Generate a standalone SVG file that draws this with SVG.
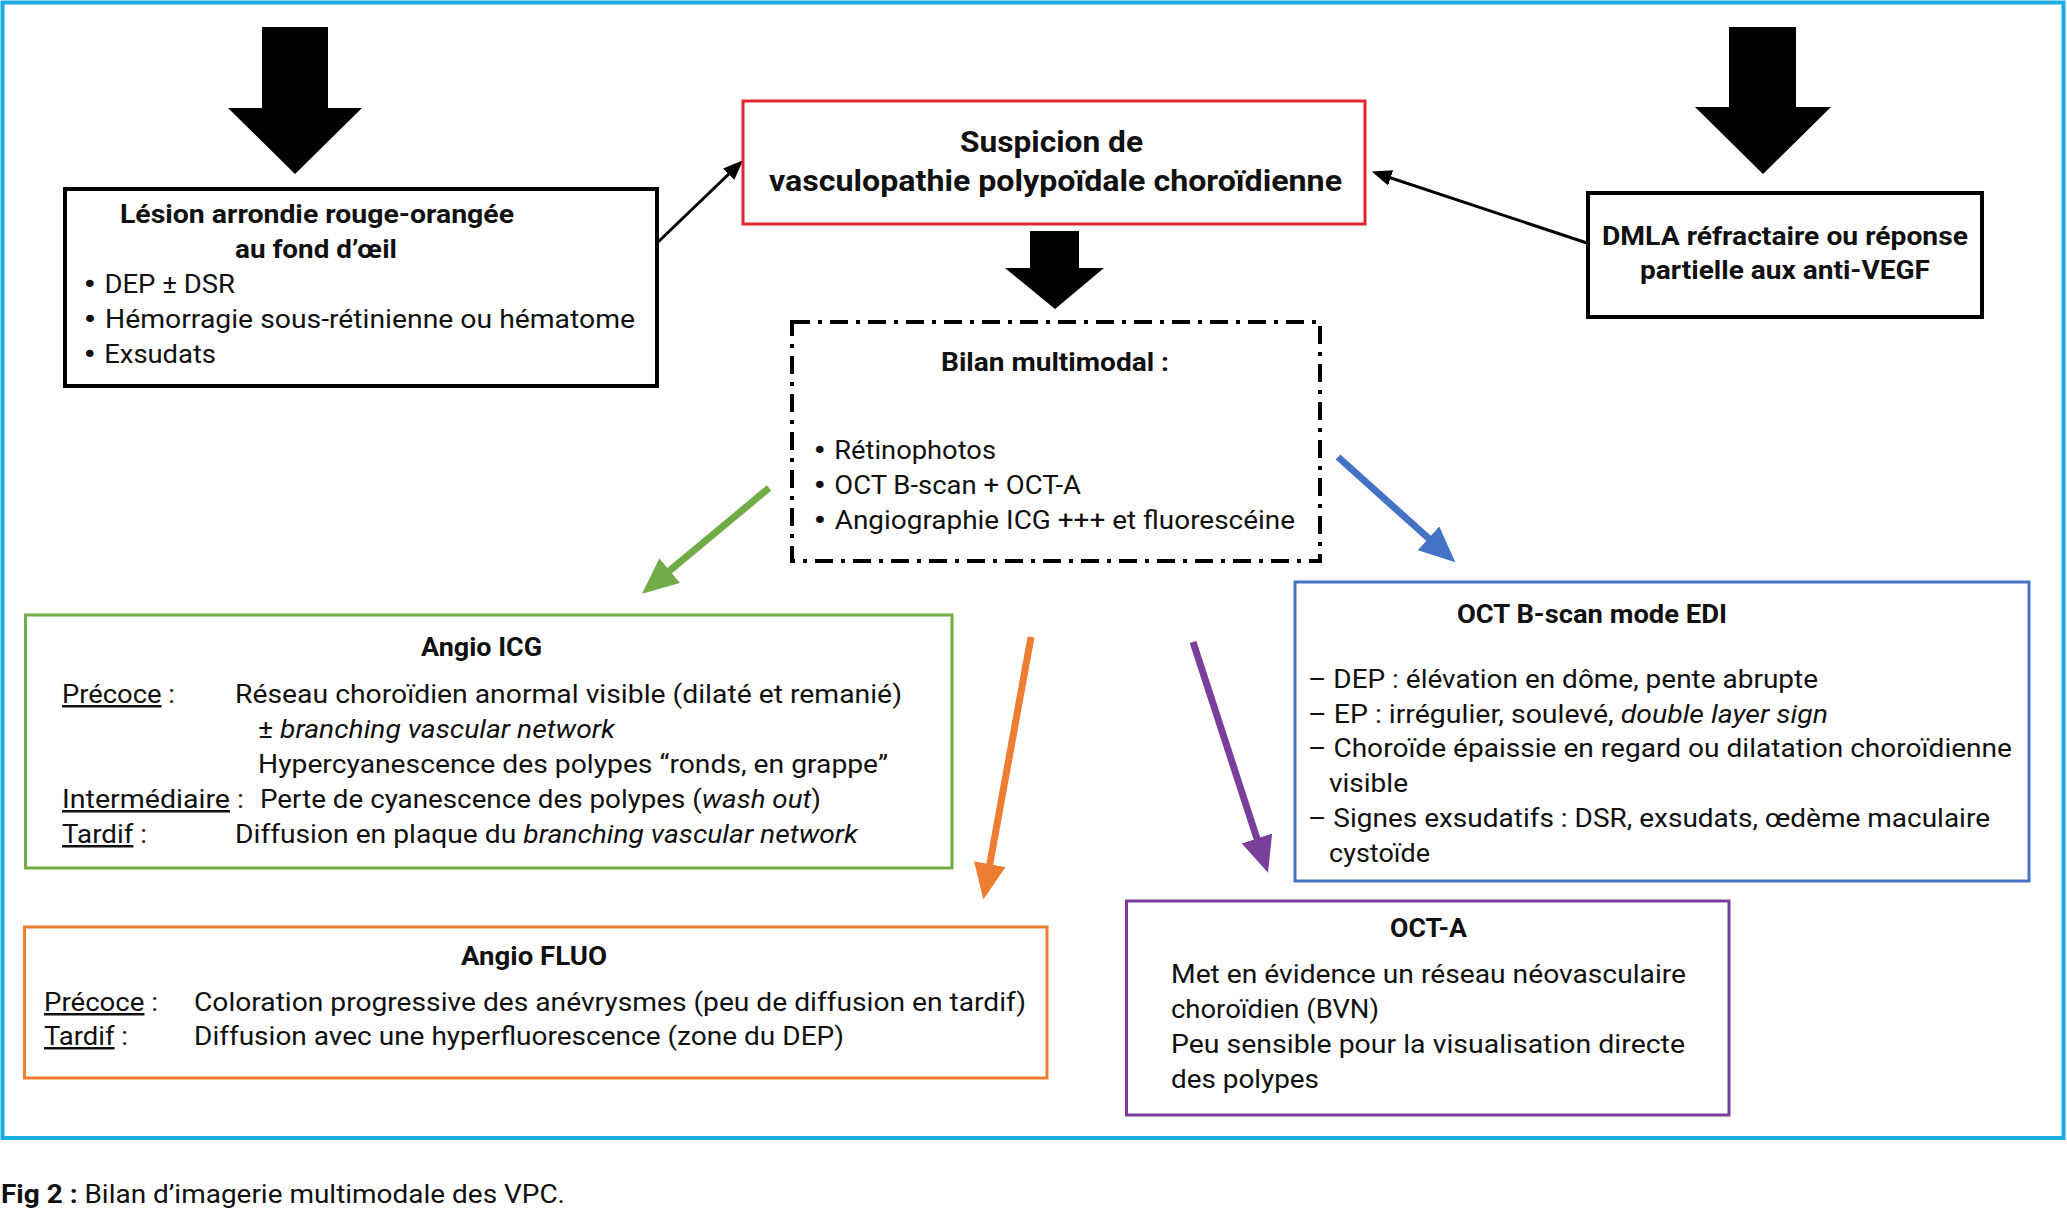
<svg xmlns="http://www.w3.org/2000/svg" width="2067" height="1210" viewBox="0 0 2067 1210">
<style>
text{font-family:Roboto,"Liberation Sans","DejaVu Sans",sans-serif;font-size:25px;fill:#111}
.b{font-weight:700}
.t{font-size:30px;font-weight:700}
.i{font-style:italic}
.u{text-decoration:underline}
.bu{font-family:"DejaVu Sans",sans-serif;font-size:24px}
.box{fill:#fff;stroke-width:3}
.blk{stroke:#000;stroke-width:4}
.thin{stroke:#000;stroke-width:3;fill:none}
.col{stroke-width:7;fill:none}
</style>
<defs>
<marker id="ah" markerUnits="userSpaceOnUse" markerWidth="20" markerHeight="16" refX="6" refY="8" orient="auto"><path d="M0,0 L20,8 L0,16 z" fill="#000"/></marker>
<marker id="hg" markerUnits="userSpaceOnUse" markerWidth="36" markerHeight="32" refX="10" refY="16" orient="auto"><path d="M0,0 L36,16 L0,32 z" fill="#70AD47"/></marker>
<marker id="hb" markerUnits="userSpaceOnUse" markerWidth="36" markerHeight="32" refX="10" refY="16" orient="auto"><path d="M0,0 L36,16 L0,32 z" fill="#4472C4"/></marker>
<marker id="ho" markerUnits="userSpaceOnUse" markerWidth="36" markerHeight="32" refX="10" refY="16" orient="auto"><path d="M0,0 L36,16 L0,32 z" fill="#ED7D31"/></marker>
<marker id="hp" markerUnits="userSpaceOnUse" markerWidth="36" markerHeight="32" refX="10" refY="16" orient="auto"><path d="M0,0 L36,16 L0,32 z" fill="#7A3E9D"/></marker>
</defs>
<rect width="2067" height="1210" fill="#fff"/>
<rect id="frame" x="2.5" y="2.5" width="2061" height="1135.5" fill="none" stroke="#1AADE4" stroke-width="4"/>

<g id="connectors">
<polygon points="262,27 328,27 328,108 362,108 295,174 228,108 262,108" fill="#000"/>
<polygon points="1729,27 1796,27 1796,107 1831,107 1763,174 1695,107 1729,107" fill="#000"/>
<polygon points="1030,231 1079,231 1079,268 1104,268 1055,309 1005,268 1030,268" fill="#000"/>
<line class="thin" x1="657" y1="243" x2="733" y2="170" marker-end="url(#ah)"/>
<line class="thin" x1="1587" y1="243" x2="1385" y2="176" marker-end="url(#ah)"/>
<line class="col" stroke="#70AD47" x1="769" y1="488" x2="662" y2="577" marker-end="url(#hg)"/>
<line class="col" stroke="#4472C4" x1="1338" y1="457" x2="1436" y2="545" marker-end="url(#hb)"/>
<line class="col" stroke="#ED7D31" x1="1031" y1="637" x2="988" y2="874" marker-end="url(#ho)"/>
<line class="col" stroke="#7A3E9D" x1="1193" y1="642" x2="1260" y2="848" marker-end="url(#hp)"/>
</g>

<g id="lesion">
<rect class="box blk" x="65" y="189" width="592" height="197"/>
<text class="b" x="120" y="223" textLength="394" lengthAdjust="spacingAndGlyphs">Lésion arrondie rouge-orangée</text>
<text class="b" x="235" y="258" textLength="162" lengthAdjust="spacingAndGlyphs">au fond d’œil</text>
<text x="82" y="293" textLength="153" lengthAdjust="spacingAndGlyphs"><tspan class="bu">•</tspan> DEP ± DSR</text>
<text x="82" y="328" textLength="553" lengthAdjust="spacingAndGlyphs"><tspan class="bu">•</tspan> Hémorragie sous-rétinienne ou hématome</text>
<text x="82" y="363" textLength="134" lengthAdjust="spacingAndGlyphs"><tspan class="bu">•</tspan> Exsudats</text>
</g>

<g id="suspicion">
<rect class="box" stroke="#E0262E" x="743" y="101" width="622" height="123"/>
<text class="t" x="960" y="152" textLength="183" lengthAdjust="spacingAndGlyphs">Suspicion de</text>
<text class="t" x="769" y="191" textLength="573" lengthAdjust="spacingAndGlyphs">vasculopathie polypoïdale choroïdienne</text>
</g>

<g id="dmla">
<rect class="box blk" x="1588" y="193" width="394" height="124"/>
<text class="b" x="1602" y="245" textLength="366" lengthAdjust="spacingAndGlyphs">DMLA réfractaire ou réponse</text>
<text class="b" x="1640" y="279" textLength="290" lengthAdjust="spacingAndGlyphs">partielle aux anti-VEGF</text>
</g>

<g id="bilan">
<rect x="792" y="322" width="528" height="239" fill="#fff" stroke="#000" stroke-width="4" stroke-dasharray="18 8 4 8"/>
<text class="b" x="941" y="371" textLength="228" lengthAdjust="spacingAndGlyphs">Bilan multimodal :</text>
<text x="812" y="459" textLength="184" lengthAdjust="spacingAndGlyphs"><tspan class="bu">•</tspan> Rétinophotos</text>
<text x="812" y="494" textLength="269" lengthAdjust="spacingAndGlyphs"><tspan class="bu">•</tspan> OCT B-scan + OCT-A</text>
<text x="812" y="529" textLength="483" lengthAdjust="spacingAndGlyphs"><tspan class="bu">•</tspan> Angiographie ICG +++ et fluorescéine</text>
</g>

<g id="icg">
<rect class="box" stroke="#70AD47" x="25.5" y="615" width="926.5" height="253"/>
<text class="b" x="421" y="656" textLength="121" lengthAdjust="spacingAndGlyphs">Angio ICG</text>
<text x="62" y="703" textLength="113" lengthAdjust="spacingAndGlyphs"><tspan class="u">Précoce</tspan> :</text>
<text x="235" y="703" textLength="667" lengthAdjust="spacingAndGlyphs">Réseau choroïdien anormal visible (dilaté et remanié)</text>
<text x="258" y="738" textLength="357" lengthAdjust="spacingAndGlyphs">± <tspan class="i">branching vascular network</tspan></text>
<text x="258" y="773" textLength="630" lengthAdjust="spacingAndGlyphs">Hypercyanescence des polypes “ronds, en grappe”</text>
<text x="62" y="808" textLength="182" lengthAdjust="spacingAndGlyphs"><tspan class="u">Intermédiaire</tspan> :</text>
<text x="260" y="808" textLength="561" lengthAdjust="spacingAndGlyphs">Perte de cyanescence des polypes (<tspan class="i">wash out</tspan>)</text>
<text x="62" y="843" textLength="85" lengthAdjust="spacingAndGlyphs"><tspan class="u">Tardif</tspan> :</text>
<text x="235" y="843" textLength="623" lengthAdjust="spacingAndGlyphs">Diffusion en plaque du <tspan class="i">branching vascular network</tspan></text>
</g>

<g id="fluo">
<rect class="box" stroke="#ED7D31" x="24.5" y="927" width="1022.5" height="151"/>
<text class="b" x="461" y="965" textLength="146" lengthAdjust="spacingAndGlyphs">Angio FLUO</text>
<text x="44" y="1011" textLength="114" lengthAdjust="spacingAndGlyphs"><tspan class="u">Précoce</tspan> :</text>
<text x="194" y="1011" textLength="832" lengthAdjust="spacingAndGlyphs">Coloration progressive des anévrysmes (peu de diffusion en tardif)</text>
<text x="44" y="1045" textLength="84" lengthAdjust="spacingAndGlyphs"><tspan class="u">Tardif</tspan> :</text>
<text x="194" y="1045" textLength="650" lengthAdjust="spacingAndGlyphs">Diffusion avec une hyperfluorescence (zone du DEP)</text>
</g>

<g id="oct-edi">
<rect class="box" stroke="#4472C4" x="1295" y="582" width="734" height="299"/>
<text class="b" x="1457" y="623" textLength="270" lengthAdjust="spacingAndGlyphs">OCT B-scan mode EDI</text>
<text x="1308" y="688" textLength="510" lengthAdjust="spacingAndGlyphs">– DEP : élévation en dôme, pente abrupte</text>
<text x="1308" y="723" textLength="520" lengthAdjust="spacingAndGlyphs">– EP : irrégulier, soulevé, <tspan class="i">double layer sign</tspan></text>
<text x="1308" y="757" textLength="704" lengthAdjust="spacingAndGlyphs">– Choroïde épaissie en regard ou dilatation choroïdienne</text>
<text x="1329" y="792" textLength="79" lengthAdjust="spacingAndGlyphs">visible</text>
<text x="1308" y="827" textLength="682" lengthAdjust="spacingAndGlyphs">– Signes exsudatifs : DSR, exsudats, œdème maculaire</text>
<text x="1329" y="862" textLength="101" lengthAdjust="spacingAndGlyphs">cystoïde</text>
</g>

<g id="octa">
<rect class="box" stroke="#7A3E9D" x="1126.5" y="901" width="602.5" height="214"/>
<text class="b" x="1390" y="937" textLength="77" lengthAdjust="spacingAndGlyphs">OCT-A</text>
<text x="1171" y="983" textLength="515" lengthAdjust="spacingAndGlyphs">Met en évidence un réseau néovasculaire</text>
<text x="1171" y="1018" textLength="208" lengthAdjust="spacingAndGlyphs">choroïdien (BVN)</text>
<text x="1171" y="1053" textLength="514" lengthAdjust="spacingAndGlyphs">Peu sensible pour la visualisation directe</text>
<text x="1171" y="1088" textLength="148" lengthAdjust="spacingAndGlyphs">des polypes</text>
</g>

<text id="caption" x="1" y="1203" font-size="24" textLength="564" lengthAdjust="spacingAndGlyphs"><tspan class="b">Fig 2 :</tspan> Bilan d’imagerie multimodale des VPC.</text>
</svg>
